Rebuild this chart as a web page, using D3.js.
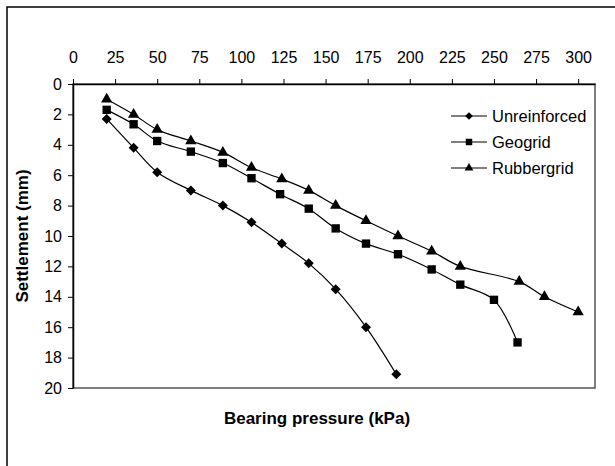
<!DOCTYPE html>
<html>
<head>
<meta charset="utf-8">
<script src="https://cdn.jsdelivr.net/npm/d3@7"></script>
<style>
  html, body { margin: 0; padding: 0; background: #fff; }
  svg { display: block; font-family: "Liberation Sans", Arial, sans-serif; }
</style>
</head>
<body>
<svg id="chart" width="615" height="466"></svg>
<script>
// Data
const seriesNames = ["Unreinforced", "Geogrid", "Rubbergrid"];
const unreinforcedX = [20, 36, 50, 70, 89, 106, 124, 140, 156, 174, 192];
const unreinforcedY = [2.3, 4.2, 5.8, 7.0, 8.0, 9.1, 10.5, 11.8, 13.5, 16.0, 19.1];
const geogridX = [20, 36, 50, 70, 89, 106, 123, 140, 156, 174, 193, 213, 230, 250, 264];
const geogridY = [1.7, 2.65, 3.75, 4.45, 5.2, 6.2, 7.25, 8.2, 9.5, 10.5, 11.2, 12.2, 13.2, 14.2, 17.0];
const rubbergridX = [20, 36, 50, 70, 89, 106, 124, 140, 156, 174, 193, 213, 230, 265, 280, 300];
const rubbergridY = [1.0, 2.0, 3.0, 3.75, 4.5, 5.5, 6.25, 7.0, 8.0, 9.0, 10.0, 11.0, 12.0, 13.0, 14.0, 15.0];
const xTicks = [0, 25, 50, 75, 100, 125, 150, 175, 200, 225, 250, 275, 300];
const yTicks = [0, 2, 4, 6, 8, 10, 12, 14, 16, 18, 20];
const xTitle = "Bearing pressure (kPa)";
const yTitle = "Settlement (mm)";

const series = [
  { name: seriesNames[0], xs: unreinforcedX, ys: unreinforcedY, symbol: d3.symbolSquare, rot: 45, size: 50 },
  { name: seriesNames[1], xs: geogridX, ys: geogridY, symbol: d3.symbolSquare, rot: 0, size: 70 },
  { name: seriesNames[2], xs: rubbergridX, ys: rubbergridY, symbol: d3.symbolTriangle, rot: 0, size: 55 }
];

const svg = d3.select("#chart");
const pLeft = 73, pRight = 595, pTop = 84, pBottom = 388;

const x = d3.scaleLinear().domain([0, 310]).range([pLeft, pRight]);
const y = d3.scaleLinear().domain([0, 20]).range([pTop, pBottom]);

// outer frame (extends beyond the picture on right and bottom)
svg.append("path")
  .attr("d", `M7,470 L7,7 L620,7`)
  .attr("fill", "none").attr("stroke", "#000").attr("stroke-width", 1.5);

// plot area border
svg.append("rect")
  .attr("x", pLeft).attr("y", pTop)
  .attr("width", pRight - pLeft).attr("height", pBottom - pTop)
  .attr("fill", "none").attr("stroke", "#555").attr("stroke-width", 1.5);

// top x axis
const xAxis = svg.append("g")
  .attr("transform", `translate(0,${pTop})`)
  .call(d3.axisTop(x).tickValues(xTicks).tickSize(5).tickPadding(16).tickSizeOuter(0));
// left y axis
const yAxis = svg.append("g")
  .attr("transform", `translate(${pLeft},0)`)
  .call(d3.axisLeft(y).tickValues(yTicks).tickSize(5).tickPadding(6).tickSizeOuter(0));

[xAxis, yAxis].forEach(g => {
  g.selectAll("path.domain").attr("stroke", "#000").attr("stroke-width", 1.5);
  g.selectAll(".tick line").attr("stroke", "#000").attr("stroke-width", 1);
  g.selectAll(".tick text").attr("fill", "#000").style("font-size", "16px")
    .style("font-family", "'Liberation Sans', Arial, sans-serif");
});

// series lines and markers
const line = d3.line()
  .x(d => x(d[0])).y(d => y(d[1]))
  .curve(d3.curveCatmullRom.alpha(0.5));

series.forEach(s => {
  const pts = s.xs.map((v, i) => [v, s.ys[i]]);
  svg.append("path")
    .datum(pts)
    .attr("d", line)
    .attr("fill", "none").attr("stroke", "#000").attr("stroke-width", 1.2);
  svg.append("g").selectAll("path")
    .data(pts).join("path")
    .attr("transform", d => `translate(${x(d[0])},${y(d[1])}) rotate(${s.rot})`)
    .attr("d", d3.symbol().type(s.symbol).size(s.size))
    .attr("fill", "#000");
});

// legend
const legend = svg.append("g").attr("transform", "translate(451,116)");
series.forEach((s, i) => {
  const g = legend.append("g").attr("transform", `translate(0,${i * 26})`);
  g.append("line").attr("x1", 0).attr("x2", 36).attr("y1", 0).attr("y2", 0)
    .attr("stroke", "#000").attr("stroke-width", 1.2);
  g.append("path").attr("transform", `translate(18,0) rotate(${s.rot})`)
    .attr("d", d3.symbol().type(s.symbol).size(s.size * 0.6)).attr("fill", "#000");
  g.append("text").attr("x", 41).attr("y", 0).attr("dy", "0.35em")
    .style("font-size", "16.5px").attr("fill", "#000").text(s.name);
});

// axis titles
svg.append("text")
  .attr("x", 317).attr("y", 418).attr("dy", "0.35em")
  .attr("text-anchor", "middle")
  .style("font-size", "17px").style("font-weight", "bold")
  .text(xTitle);
svg.append("text")
  .attr("transform", `translate(22,${(pTop + pBottom) / 2}) rotate(-90)`)
  .attr("dy", "0.35em")
  .attr("text-anchor", "middle")
  .style("font-size", "17px").style("font-weight", "bold")
  .text(yTitle);
</script>
</body>
</html>
